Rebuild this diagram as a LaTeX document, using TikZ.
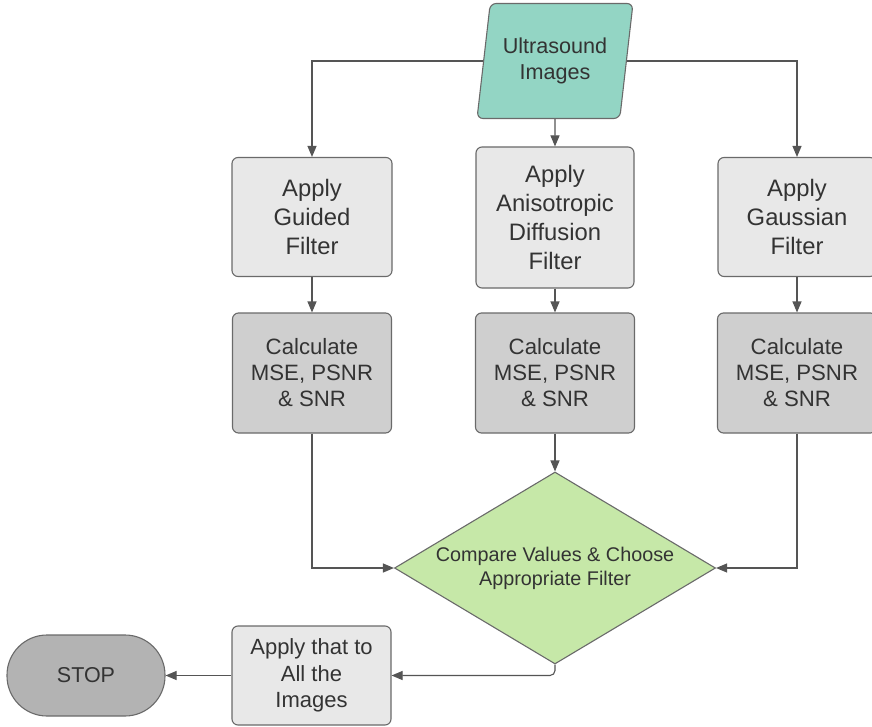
\documentclass[tikz,border=0pt]{standalone}
\usepackage{fontspec}
\setmainfont{Liberation Sans}
\usetikzlibrary{shapes.geometric,arrows.meta}
\definecolor{strokec}{HTML}{6A6A6A}
\definecolor{textc}{HTML}{333333}
\definecolor{lightbox}{HTML}{E8E8E8}
\definecolor{calcbox}{HTML}{CFCFCF}
\definecolor{stopbox}{HTML}{B3B3B3}
\definecolor{tealc}{HTML}{93D5C4}
\definecolor{greenc}{HTML}{C6E8A8}
\definecolor{linec}{HTML}{555555}
\tikzset{
  base/.style={draw=strokec, line width=1.1pt, text=textc, align=center, inner sep=0pt},
  filterbox/.style={base, rectangle, rounded corners=6pt, fill=lightbox, font=\fontsize{23.8}{28.7}\selectfont},
  calcnode/.style={base, rectangle, rounded corners=6pt, fill=calcbox, minimum width=159pt, minimum height=120pt, font=\fontsize{22.2}{26}\selectfont},
  conn/.style={draw=linec, line width=1.1pt, -{Triangle[length=11pt,width=9pt]}},
}
\begin{document}
\begin{tikzpicture}[x=1pt,y=-1pt]
\clip (0,0) rectangle (872,727);
\fill[white] (0,0) rectangle (872,727);

\node[base, trapezium, trapezium left angle=77, trapezium right angle=103, trapezium stretches=true,
      minimum width=156pt, minimum height=115pt, rounded corners=6pt, fill=tealc,
      font=\fontsize{21.6}{26}\selectfont] (ui) at (555,61) {Ultrasound\\Images};

\node[filterbox, minimum width=160pt, minimum height=119pt] (b1) at (312,217) {Apply\\Guided\\Filter};
\node[filterbox, minimum width=158pt, minimum height=141pt] (b2) at (555,217.5) {Apply\\Anisotropic\\Diffusion\\Filter};
\node[filterbox, minimum width=158pt, minimum height=119pt] (b3) at (797,217) {Apply\\Gaussian\\Filter};

\node[calcnode] (c1) at (312,373) {Calculate\\MSE, PSNR\\\& SNR};
\node[calcnode] (c2) at (555,373) {Calculate\\MSE, PSNR\\\& SNR};
\node[calcnode] (c3) at (797,373) {Calculate\\MSE, PSNR\\\& SNR};

\node[base, diamond, aspect=1.67, minimum width=321pt, minimum height=192pt, fill=greenc,
      font=\fontsize{19.8}{24}\selectfont] (dia) at (555,568) {Compare Values \& Choose\\Appropriate Filter};

\node[base, rectangle, rounded corners=6pt, fill=lightbox, minimum width=159pt, minimum height=99pt,
      font=\fontsize{22}{26.5}\selectfont] (ap) at (311.5,675.5) {Apply that to\\All the\\Images};

\node[base, rectangle, rounded corners=40pt, fill=stopbox, minimum width=158pt, minimum height=81pt,
      font=\fontsize{21.5}{26}\selectfont] (stop) at (86,675.5) {STOP};

\draw[conn] (ui.west) -| (b1.north);
\draw[conn] (ui.east) -| (b3.north);
\draw[conn] (ui.south) -- (b2.north);
\draw[conn] (b1.south) -- (c1.north);
\draw[conn] (b2.south) -- (c2.north);
\draw[conn] (b3.south) -- (c3.north);
\draw[conn] (c1.south) |- (dia.west);
\draw[conn] (c3.south) |- (dia.east);
\draw[conn] (c2.south) -- (dia.north);
\draw[conn, rounded corners=5pt] (dia.south) |- (ap.east);
\draw[conn] (ap.west) -- (stop.east);
\end{tikzpicture}
\end{document}
